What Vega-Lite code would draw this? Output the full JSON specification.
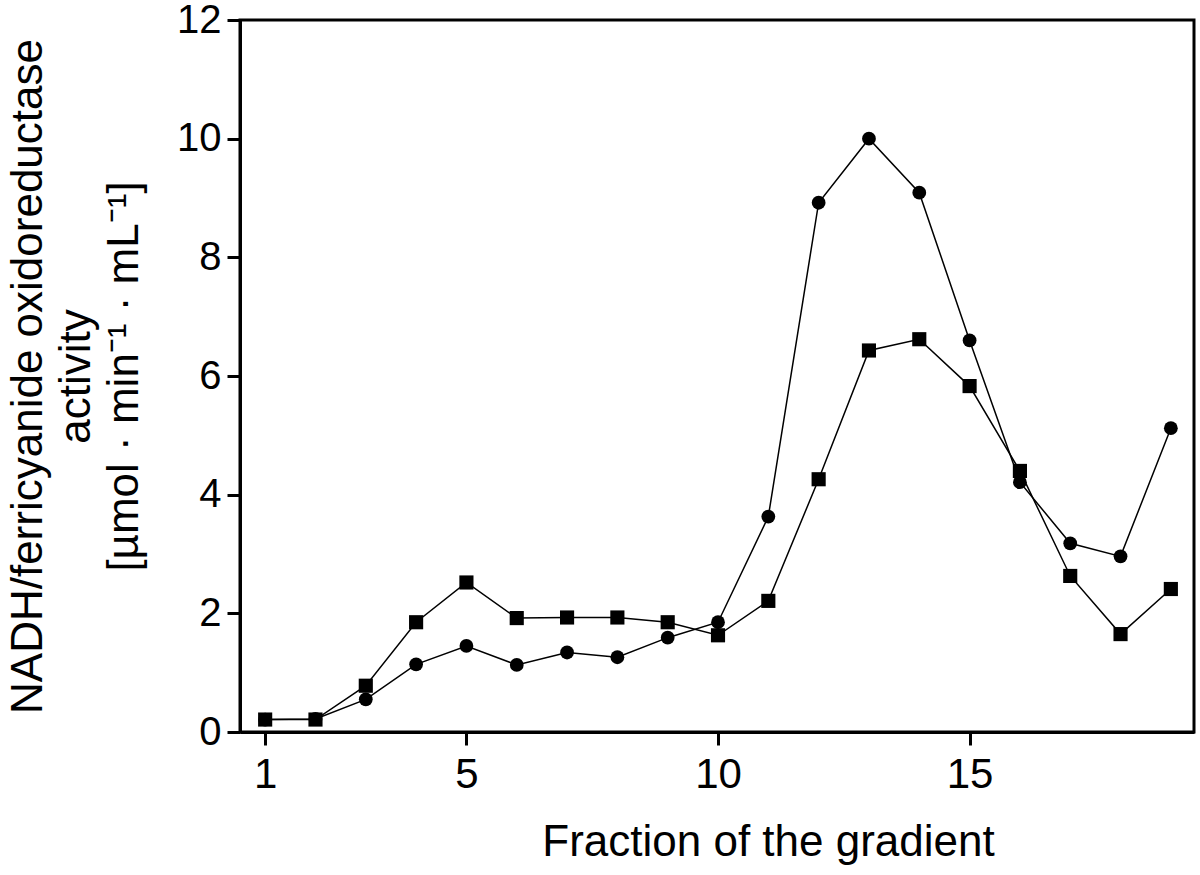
{
  "$schema": "https://vega.github.io/schema/vega-lite/v6.json",
  "width": 954,
  "height": 712,
  "autosize": {"type": "none"},
  "padding": {"left": 240, "top": 20, "right": 6, "bottom": 143},
  "background": "white",
  "config": {
    "font": "Liberation Sans",
    "view": {"stroke": "black", "strokeWidth": 3},
    "axis": {"grid": false, "domainColor": "black", "domainWidth": 3, "tickColor": "black", "tickWidth": 3, "tickSize": 13, "labelColor": "black", "titleColor": "black", "labelFont": "Liberation Sans", "titleFont": "Liberation Sans", "titleFontWeight": "normal"}
  },
  "data": {
    "values": [
      {"fraction": 1, "series": "circle", "activity": 0.21},
      {"fraction": 2, "series": "circle", "activity": 0.22},
      {"fraction": 3, "series": "circle", "activity": 0.55},
      {"fraction": 4, "series": "circle", "activity": 1.14},
      {"fraction": 5, "series": "circle", "activity": 1.45},
      {"fraction": 6, "series": "circle", "activity": 1.13},
      {"fraction": 7, "series": "circle", "activity": 1.34},
      {"fraction": 8, "series": "circle", "activity": 1.26},
      {"fraction": 9, "series": "circle", "activity": 1.59},
      {"fraction": 10, "series": "circle", "activity": 1.85},
      {"fraction": 11, "series": "circle", "activity": 3.63},
      {"fraction": 12, "series": "circle", "activity": 8.92},
      {"fraction": 13, "series": "circle", "activity": 10.0},
      {"fraction": 14, "series": "circle", "activity": 9.09},
      {"fraction": 15, "series": "circle", "activity": 6.6},
      {"fraction": 16, "series": "circle", "activity": 4.21},
      {"fraction": 17, "series": "circle", "activity": 3.18},
      {"fraction": 18, "series": "circle", "activity": 2.96},
      {"fraction": 19, "series": "circle", "activity": 5.12},
      {"fraction": 1, "series": "square", "activity": 0.21},
      {"fraction": 2, "series": "square", "activity": 0.21},
      {"fraction": 3, "series": "square", "activity": 0.78},
      {"fraction": 4, "series": "square", "activity": 1.85},
      {"fraction": 5, "series": "square", "activity": 2.52},
      {"fraction": 6, "series": "square", "activity": 1.92},
      {"fraction": 7, "series": "square", "activity": 1.93},
      {"fraction": 8, "series": "square", "activity": 1.93},
      {"fraction": 9, "series": "square", "activity": 1.85},
      {"fraction": 10, "series": "square", "activity": 1.63},
      {"fraction": 11, "series": "square", "activity": 2.21},
      {"fraction": 12, "series": "square", "activity": 4.26},
      {"fraction": 13, "series": "square", "activity": 6.43},
      {"fraction": 14, "series": "square", "activity": 6.62},
      {"fraction": 15, "series": "square", "activity": 5.83},
      {"fraction": 16, "series": "square", "activity": 4.4},
      {"fraction": 17, "series": "square", "activity": 2.63},
      {"fraction": 18, "series": "square", "activity": 1.65},
      {"fraction": 19, "series": "square", "activity": 2.41}
    ]
  },
  "encoding": {
    "x": {
      "field": "fraction",
      "type": "quantitative",
      "scale": {"domain": [0.5, 19.46], "nice": false, "zero": false},
      "axis": {
        "values": [1, 5, 10, 15],
        "labelFontSize": 42,
        "labelPadding": 9,
        "title": "Fraction of the gradient",
        "titleFontSize": 44,
        "titleX": 528,
        "titleY": 123,
        "titleBaseline": "alphabetic",
        "titleAlign": "center"
      }
    },
    "y": {
      "field": "activity",
      "type": "quantitative",
      "scale": {"domain": [0, 12], "nice": false},
      "axis": {
        "values": [0, 2, 4, 6, 8, 10, 12],
        "labelFontSize": 40,
        "labelPadding": 6,
        "title": ["NADH/ferricyanide oxidoreductase", "activity", "[µmol · min⁻¹ · mL⁻¹]"],
        "titleFontSize": 44,
        "titleLineHeight": 48,
        "titlePadding": 30
      }
    }
  },
  "layer": [
    {
      "mark": {"type": "line", "color": "black", "strokeWidth": 1.5},
      "encoding": {"detail": {"field": "series"}}
    },
    {
      "mark": {"type": "point", "filled": true, "opacity": 1, "color": "black"},
      "encoding": {
        "shape": {"field": "series", "type": "nominal", "scale": {"domain": ["circle", "square"], "range": ["circle", "square"]}, "legend": null},
        "size": {"field": "series", "type": "nominal", "scale": {"domain": ["circle", "square"], "range": [190, 200]}, "legend": null}
      }
    }
  ]
}
